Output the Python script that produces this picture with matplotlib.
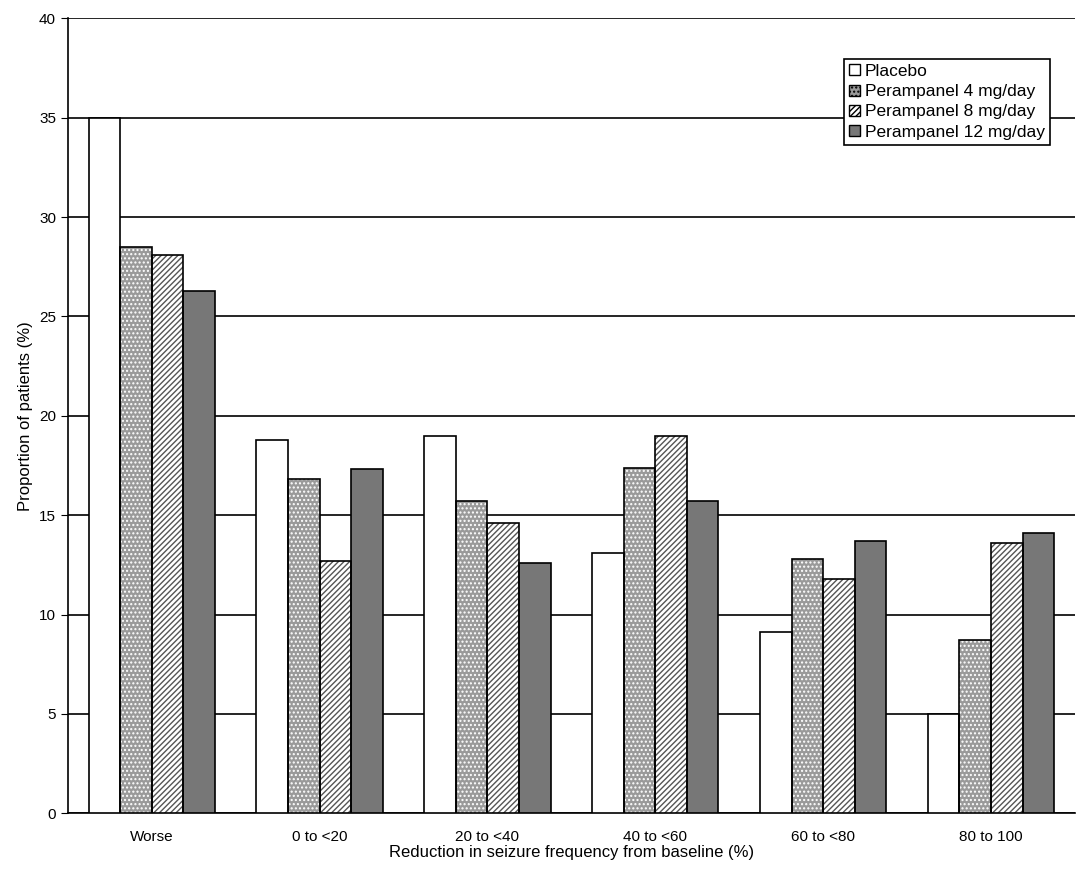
import matplotlib.pyplot as plt
import numpy as np

categories = ['Worse', '0 to <20', '20 to <40', '40 to <60', '60 to <80', '80 to 100']
series = ['Placebo', 'Perampanel 4 mg/day', 'Perampanel 8 mg/day', 'Perampanel 12 mg/day']
placebo = [35.0, 18.8, 19.0, 13.1, 9.1, 5.0]
pmp4 = [28.5, 16.8, 15.7, 17.4, 12.8, 8.7]
pmp8 = [28.1, 12.7, 14.6, 19.0, 11.8, 13.6]
pmp12 = [26.3, 17.3, 12.6, 15.7, 13.7, 14.1]

plt.rcParams['font.family'] = ['Liberation Sans', 'DejaVu Sans']
fig = plt.figure(figsize=(10.76, 8.69), dpi=100)
ax = fig.add_axes([0.063, 0.064, 0.936, 0.915])

x = np.arange(len(categories))
w = 0.188
styles = [
    dict(face='white', hatch=None, hc='black'),
    dict(face='#9a9a9a', hatch='....', hc='white'),
    dict(face='white', hatch='//////', hc='#555555'),
    dict(face='#777777', hatch=None, hc='black'),
]
handles = []
for i, (vals, st) in enumerate(zip([placebo, pmp4, pmp8, pmp12], styles)):
    pos = x + (i - 1.5) * w
    ax.bar(pos, vals, w, color=st['face'], hatch=st['hatch'], edgecolor=st['hc'],
           linewidth=0, zorder=3)
    ax.bar(pos, vals, w, fill=False, edgecolor='black', linewidth=1.2, zorder=4)
    handles.append(plt.Rectangle((0, 0), 1, 1, facecolor=st['face'], hatch=st['hatch'],
                                 edgecolor='black', linewidth=1))

ax.set_xlim(-0.5, len(categories) - 0.5)
ax.set_ylim(0, 40)
ax.set_yticks(range(0, 41, 5))
ax.yaxis.grid(True, color='black', linewidth=1.2, zorder=0)
ax.set_axisbelow(True)
ax.set_xticks(x)
ax.set_xticklabels(categories, fontsize=11)
ax.tick_params(axis='y', labelsize=11, direction='out', length=5)
ax.tick_params(axis='x', length=0, pad=12)
for s in ['top', 'right']:
    ax.spines[s].set_visible(False)
ax.spines['left'].set_linewidth(1.2)
ax.spines['bottom'].set_linewidth(1.2)
ax.set_ylabel('Proportion of patients (%)', fontsize=12)
ax.set_xlabel('Reduction in seizure frequency from baseline (%)', fontsize=12, labelpad=1)

leg = ax.legend(handles, series, loc='upper right', bbox_to_anchor=(0.984, 0.96),
                fontsize=12.5, handlelength=0.6, handleheight=0.6, handletextpad=0.3,
                labelspacing=0.3, borderpad=0.3, fancybox=False, framealpha=1,
                edgecolor='black')
leg.get_frame().set_linewidth(1.2)
leg.set_zorder(5)

fig.savefig('out.png', dpi=100)
